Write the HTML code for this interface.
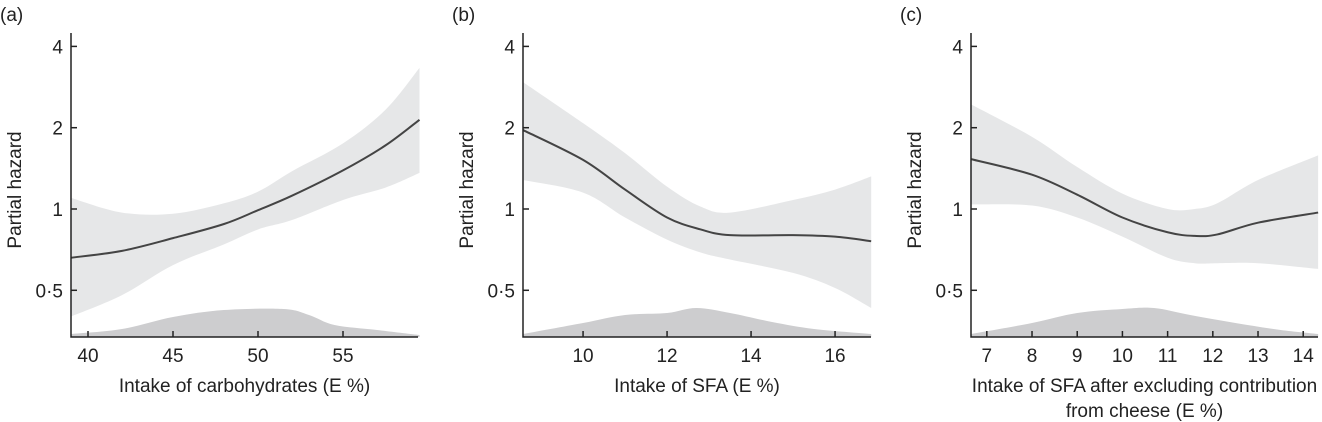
<!DOCTYPE html>
<html><head><meta charset="utf-8"><style>
body{margin:0;background:#fff;}
svg{display:block;font-family:"Liberation Sans",Arial,sans-serif;}
</style></head><body>
<svg id="c" width="1322" height="422" viewBox="0 0 1322 422"></svg>
<script>
// Panel (a)
const aX = [39, 42, 45, 48, 50, 52, 55, 57.5, 59.5];
const aLine = [0.66, 0.70, 0.78, 0.88, 0.99, 1.12, 1.39, 1.72, 2.14];
const aUpper = [1.10, 0.97, 0.96, 1.05, 1.16, 1.38, 1.75, 2.33, 3.33];
const aLower = [0.40, 0.48, 0.62, 0.74, 0.84, 0.91, 1.08, 1.20, 1.36];
const aDensX = [39, 42, 45, 48, 51.5, 53, 54.5, 57, 59.5];
const aDens = [3, 8, 20, 27, 28, 22, 12, 7, 2];
const aTicks = [40, 45, 50, 55];
// Panel (b)
const bX = [8.57, 10, 11, 12, 12.8, 13.5, 15, 16, 16.86];
const bLine = [1.96, 1.52, 1.18, 0.93, 0.84, 0.80, 0.80, 0.79, 0.76];
const bUpper = [2.95, 2.08, 1.61, 1.21, 1.02, 0.97, 1.08, 1.18, 1.32];
const bLower = [1.28, 1.15, 0.93, 0.77, 0.69, 0.65, 0.58, 0.51, 0.43];
const bDensX = [8.57, 10, 11, 12, 12.7, 13.5, 14.5, 15.5, 16.86];
const bDens = [3, 14, 22, 24, 29, 24, 15, 8, 3];
const bTicks = [10, 12, 14, 16];
// Panel (c)
const cX = [6.65, 8, 9, 10, 11, 11.6, 12.1, 13, 14.33];
const cLine = [1.53, 1.34, 1.13, 0.93, 0.82, 0.795, 0.805, 0.89, 0.97];
const cUpper = [2.44, 1.85, 1.43, 1.14, 1.00, 1.00, 1.05, 1.28, 1.58];
const cLower = [1.04, 1.03, 0.93, 0.79, 0.66, 0.63, 0.63, 0.63, 0.60];
const cDensX = [6.65, 8, 9, 10, 10.7, 11.5, 12.5, 13.5, 14.33];
const cDens = [3, 14, 24, 28, 29, 22, 14, 7, 3];
const cTicks = [7, 8, 9, 10, 11, 12, 13, 14];
const yTicks = [4, 2, 1, 0.5];
const yTickLabels = ["4", "2", "1", "0·5"];

const NS = "http://www.w3.org/2000/svg";
const svg = document.getElementById('c');
function mk(tag, attrs, parent){const e=document.createElementNS(NS,tag);for(const k in attrs)e.setAttribute(k,attrs[k]);(parent||svg).appendChild(e);return e;}
function yScale(h){return 209 - 81.3*Math.log2(h);}
function smooth(pts){
  let d="M"+pts[0][0]+","+pts[0][1];
  for(let i=0;i<pts.length-1;i++){
    const p0=pts[i-1]||pts[i],p1=pts[i],p2=pts[i+1],p3=pts[i+2]||p2;
    const c1=[p1[0]+(p2[0]-p0[0])/6,p1[1]+(p2[1]-p0[1])/6];
    const c2=[p2[0]-(p3[0]-p1[0])/6,p2[1]-(p3[1]-p1[1])/6];
    d+=" C"+c1[0]+","+c1[1]+" "+c2[0]+","+c2[1]+" "+p2[0]+","+p2[1];
  }
  return d;
}
function smoothBody(pts){return smooth(pts).replace(/^M[^ ]+/,"");}
const FS=19;

function panel(o){
  const g=mk('g',{});
  
  
  const xs=v=>o.x0+(v-o.v0)*o.k;
  const up=o.X.map((v,i)=>[xs(v),yScale(o.U[i])]);
  const lo=o.X.map((v,i)=>[xs(v),yScale(o.L[i])]).reverse();
  const band=mk('path',{d:smooth(up)+" L"+lo[0][0]+","+lo[0][1]+smoothBody(lo)+" Z",fill:"#e6e7e8"},g);
  
  
  const dp=o.DX.map((v,i)=>[xs(v),337-o.D[i]]);
  const dens=mk('path',{d:smooth(dp)+" L"+xs(o.DX[o.DX.length-1])+",337 L"+xs(o.DX[0])+",337 Z",fill:"#cdcdcf"},g);
  
  
  const ln=mk('path',{d:smooth(o.X.map((v,i)=>[xs(v),yScale(o.M[i])])),fill:"none",stroke:"#444",'stroke-width':2},g);
  
  
  const ax=mk('path',{d:"M"+o.x0+",33 V337 H"+o.x1,fill:"none",stroke:"#222",'stroke-width':1.5},g);
  
  
  yTicks.forEach((t,i)=>{
    const y=yScale(t);
    mk('line',{x1:o.x0,x2:o.x0+6,y1:y,y2:y,stroke:"#222",'stroke-width':1.5},g);
    const tx=mk('text',{x:o.x0-8,y:y+7,'font-size':FS,'text-anchor':'end',fill:"#222"},g);
    tx.textContent=yTickLabels[i];
    
    
  });
  o.T.forEach(t=>{
    const x=xs(t);
    mk('line',{x1:x,x2:x,y1:337,y2:331,stroke:"#222",'stroke-width':1.5},g);
    const tx=mk('text',{x:x,y:362,'font-size':FS,'text-anchor':'middle',fill:"#222"},g);
    tx.textContent=t;
    
    
  });
  const yl=mk('text',{x:0,y:0,'font-size':FS,'text-anchor':'middle',fill:"#222",transform:"translate("+(o.x0-50)+",190) rotate(-90)"},g);
  yl.textContent="Partial hazard";
  
  
  o.title.forEach((s,i)=>{
    const xt=mk('text',{x:(o.x0+o.x1)/2,y:392+i*25,'font-size':FS,'text-anchor':'middle',fill:"#222"},g);
    xt.textContent=s;
    
    
  });
  const pl=mk('text',{x:o.x0-71,y:21,'font-size':FS,fill:"#222"},g);
  pl.textContent="("+o.id+")";
  
  
}
panel({id:'a',x0:71,x1:418,v0:39,k:17,X:aX,M:aLine,U:aUpper,L:aLower,DX:aDensX,D:aDens,T:aTicks,title:["Intake of carbohydrates (E %)"]});
panel({id:'b',x0:523,x1:871,v0:8.57,k:42,X:bX,M:bLine,U:bUpper,L:bLower,DX:bDensX,D:bDens,T:bTicks,title:["Intake of SFA (E %)"]});
panel({id:'c',x0:971,x1:1318,v0:6.65,k:45.2,X:cX,M:cLine,U:cUpper,L:cLower,DX:cDensX,D:cDens,T:cTicks,title:["Intake of SFA after excluding contribution","from cheese (E %)"]});
</script>
</body></html>
